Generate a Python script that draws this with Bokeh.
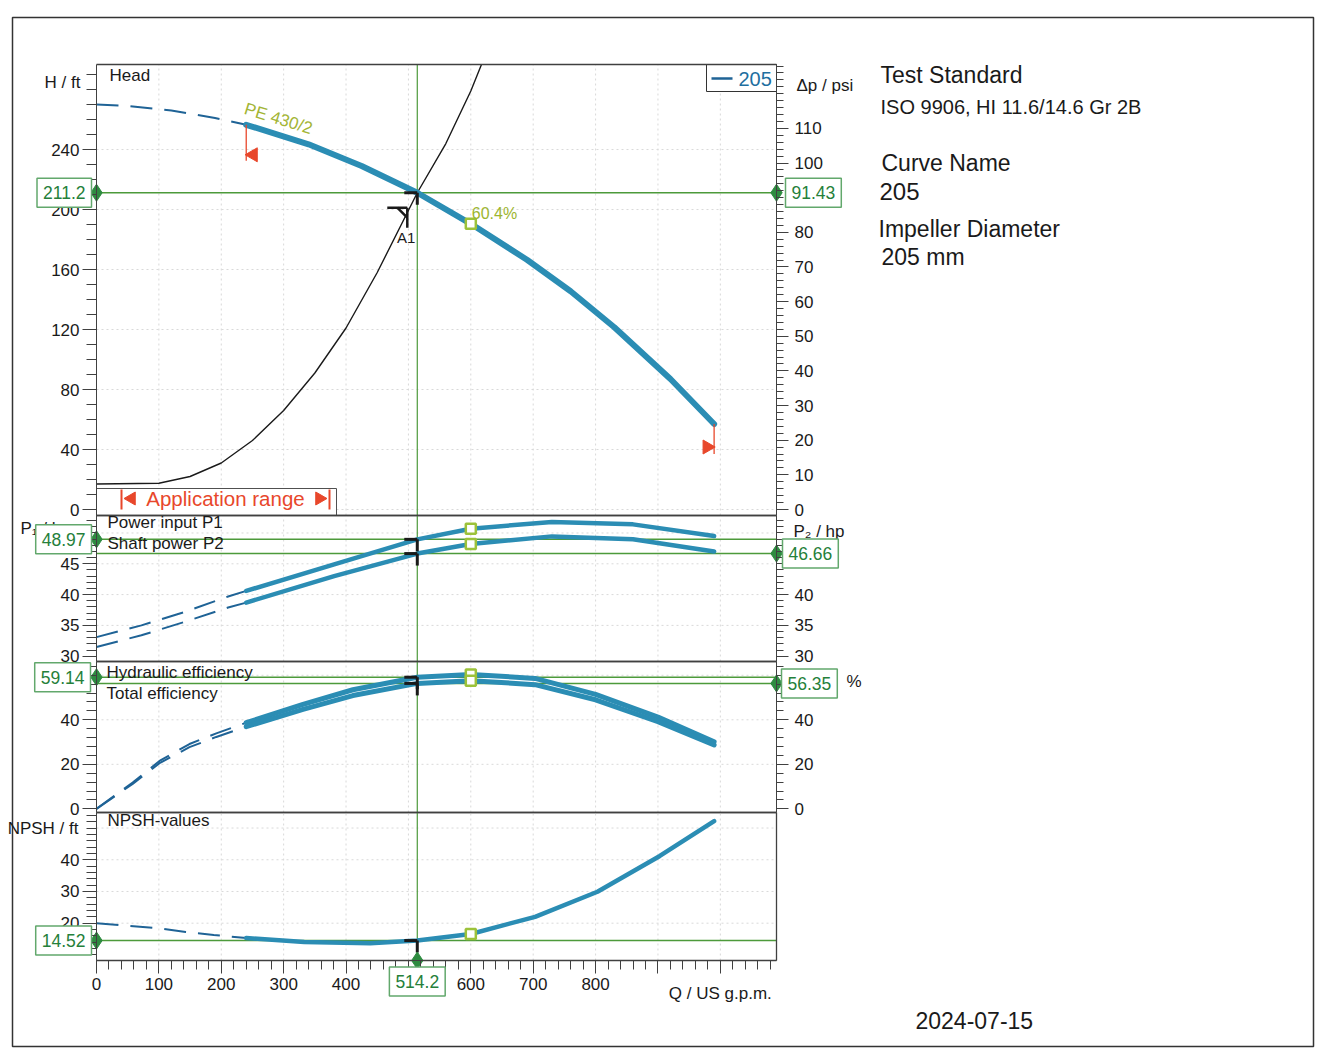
import math
from bokeh.plotting import figure
from bokeh.models import Range1d, LinearAxis, FixedTicker, Label
from bokeh.embed import file_html
from bokeh.resources import INLINE

# ---------------- data ----------------
Q_HEAD = [0, 50, 120, 190, 240, 340, 425, 514.2, 600, 690, 760, 830, 920, 990]
H_HEAD = [270, 269, 266, 261, 256.5, 243.5, 229, 211.2, 190.5, 166.5, 145.5, 121.5, 87, 57]

Q_SYSTEM = [0, 100, 150, 200, 250, 300, 350, 400, 450, 514.2, 560, 600, 630]
H_SYSTEM = [17, 17.5, 22, 31, 46, 66, 91, 121, 158, 211.2, 244, 279, 310]

Q_POWER = [0, 72, 139, 211, 240, 381, 514.2, 600, 730, 860, 990]
P1_HP = [33.1, 35.0, 37.1, 39.7, 40.6, 44.9, 48.97, 50.7, 51.8, 51.4, 49.5]
P2_HP = [31.5, 33.4, 35.5, 37.9, 38.7, 43.0, 46.66, 48.2, 49.45, 49.0, 47.0]

Q_EFF = [0, 58, 101, 149, 192, 240, 331, 411, 514.2, 600, 703, 800, 900, 990]
ETA_HYD = [0, 11.8, 21.5, 29.1, 33.9, 38.7, 46.9, 53.5, 59.14, 60.4, 58.6, 51.4, 41.2, 30.1]
ETA_TOT = [0, 11.2, 20.5, 27.7, 32.3, 36.9, 44.7, 50.9, 56.35, 57.6, 55.8, 49.0, 39.2, 28.7]

Q_NPSH = [0, 49, 103, 143, 188, 240, 333, 439, 514.2, 600, 703, 803, 903, 990]
NPSH_FT = [20.0, 19.2, 18.3, 17.2, 16.3, 15.3, 14.1, 13.7, 14.52, 16.6, 22.0, 29.9, 41.2, 52.2]

Q_OP, H_OP, DP_OP = 514.2, 211.2, 91.43
P1_OP, P2_OP = 48.97, 46.66
ETAH_OP, ETAT_OP = 59.14, 56.35
NPSH_OP = 14.52
Q_BEP, BEP_LABEL = 600, "60.4%"
APP_MIN, APP_MAX = 240, 990
PSI_PER_FT = DP_OP / H_OP

X_TICKS = list(range(0, 1001, 100))
X_HIDDEN = {500: "", 900: "", 1000: ""}
H_TICKS = [0, 40, 80, 120, 160, 200, 240]
PSI_TICKS = [0, 10, 20, 30, 40, 50, 60, 70, 80, 100, 110]
P_TICKS = [30, 35, 40, 45]
P2_TICKS = [30, 35, 40]
ETA_TICKS = [0, 20, 40]
NPSH_TICKS = [20, 30, 40]

INFO = [("Test Standard", 23), ("ISO 9906, HI 11.6/14.6 Gr 2B", 20), ("Curve Name", 23),
        ("205", 24), ("Impeller Diameter", 23), ("205 mm", 23)]
DATE = "2024-07-15"

# ---------------- layout / style ----------------
FONT = "Liberation Sans"
BLUE = "#2b8db4"
DASH = "#1f6396"
OPG = "#4d9a3b"
GTXT = "#25803a"
GBOX = "#62a86c"
DIAM = "#2e8b40"
BEPC = "#9cc23a"
RED = "#e8472b"
INK = "#1a1a1a"
FRAME = "#404040"
GRIDC = "#d9d9d9"

W, HT = 1320, 1052
PX0, PX1 = 96, 776              # panel frame left / right (page px)
X_MAX = 1090
KQ = X_MAX / (PX1 - PX0)        # gpm per pixel
H_RANGE = (-4, 296.7)
P_RANGE = (29.14, 52.84)
E_RANGE = (-1.66, 66.2)
N_RANGE = (8.23, 54.9)
BANDS = {"head": (64, 515, H_RANGE), "power": (515, 661, P_RANGE),
         "eff": (661, 812, E_RANGE), "npsh": (812, 960, N_RANGE)}
BOX_PAD = (6, 8)


def band_range(top, bot, rng):
    s = (rng[1] - rng[0]) / (bot - top)
    return Range1d(rng[0] - (HT - bot) * s, rng[1] + top * s)


def qpx(px):
    return px * KQ


def vpx(name, px):
    top, bot, rng = BANDS[name]
    return px * (rng[1] - rng[0]) / (bot - top)


p = figure(width=W, height=HT, x_range=Range1d(-PX0 * KQ, (W - PX0) * KQ),
           y_range=Range1d(HT, 0), min_border=0, toolbar_location=None,
           output_backend="svg", x_axis_location=None, y_axis_location=None)
p.grid.visible = False
p.outline_line_color = None
p.background_fill_color = "white"
p.border_fill_color = "white"
p.extra_x_ranges = {"px": Range1d(0, W)}
p.extra_y_ranges = {k: band_range(*v) for k, v in BANDS.items()}
p.extra_y_ranges["psi"] = band_range(64, 515, (H_RANGE[0] * PSI_PER_FT,
                                                H_RANGE[1] * PSI_PER_FT))


def axis(side, name, loc, bounds, ticks, minor, overrides=None):
    ax = LinearAxis(y_range_name=name, fixed_location=loc, bounds=bounds)
    ax.ticker = FixedTicker(ticks=ticks, minor_ticks=minor)
    ax.major_label_text_font = FONT
    ax.major_label_text_font_size = "17px"
    ax.major_label_text_color = INK
    ax.axis_line_color = FRAME
    ax.major_tick_line_color = FRAME
    ax.minor_tick_line_color = FRAME
    ax.major_tick_in = 0
    ax.minor_tick_in = 0
    if side == "left":
        ax.major_tick_out, ax.minor_tick_out, ax.major_label_standoff = 14, 10, 3
    elif side == "right":
        ax.major_tick_out, ax.minor_tick_out, ax.major_label_standoff = 12, 7, 6
    else:
        ax.major_tick_out, ax.minor_tick_out, ax.major_label_standoff = 13, 9, 4
    if overrides:
        ax.major_label_overrides = overrides
    p.add_layout(ax, side)


def grid(name, yticks):
    rng = BANDS[name][2]
    xs = X_TICKS[1:]
    p.segment(x0=xs, y0=[rng[0]] * len(xs), x1=xs, y1=[rng[1]] * len(xs),
              line_color=GRIDC, line_dash="2 3", y_range_name=name)
    p.segment(x0=[0] * len(yticks), y0=yticks, x1=[X_MAX] * len(yticks), y1=yticks,
              line_color=GRIDC, line_dash="2 3", y_range_name=name)


def text(x, y, s, size=17, color=INK, align="left", baseline="middle", name=None,
         xname=None, **kw):
    if name:
        kw["y_range_name"] = name
    if xname:
        kw["x_range_name"] = xname
    p.add_layout(Label(x=x, y=y, text=s, text_font=FONT, text_font_size=f"{size}px",
                       text_color=color, text_align=align, text_baseline=baseline, **kw))


def ptext(x, y, s, **kw):   # positioned in page pixels
    text(x, y, s, xname="px", **kw)


def vbox(x, y, s, align, name=None):
    kw = {"y_range_name": name} if name else {}
    p.add_layout(Label(x=x, y=y, text=s, text_align=align, text_baseline="middle",
                       text_font=FONT, text_font_size="17.5px", text_color=GTXT,
                       background_fill_color="white", border_line_color=GBOX,
                       border_line_width=1.5, padding=BOX_PAD, **kw))


def diamond(x, y, name):
    p.scatter([x], [y], marker="diamond", size=17, fill_color=DIAM, line_color=DIAM,
              y_range_name=name)


def op_lines(name, ys):
    rng = BANDS[name][2]
    p.segment(x0=[0] * len(ys), y0=ys, x1=[X_MAX] * len(ys), y1=ys, line_color=OPG,
              line_width=1.5, y_range_name=name)
    p.segment(x0=[Q_OP], y0=[rng[0]], x1=[Q_OP], y1=[rng[1]], line_color=OPG,
              line_width=1.2, y_range_name=name)


def curve(name, q, v, w):
    i0 = q.index(APP_MIN)
    p.line(q[:i0 + 1], v[:i0 + 1], line_color=DASH, line_width=2, line_dash="22 12",
           y_range_name=name)
    p.line(q[i0:], v[i0:], line_color=BLUE, line_width=w, line_cap="round",
           line_join="round", y_range_name=name)


def bep(name, q, v):
    yv = v[q.index(Q_BEP)]
    p.scatter([Q_BEP], [yv], marker="square", size=10, line_color=BEPC, line_width=2.5,
              fill_color="white", y_range_name=name)
    return yv


def op_mark(name, y):
    p.segment(x0=[Q_OP - qpx(13), Q_OP], y0=[y, y], x1=[Q_OP, Q_OP],
              y1=[y, y - vpx(name, 12)], line_color=INK, line_width=3, y_range_name=name)


def frame_lines(name):
    rng = BANDS[name][2]
    p.segment(x0=[0, 0], y0=[rng[0], rng[1]], x1=[X_MAX, X_MAX], y1=[rng[0], rng[1]],
              line_color=FRAME, line_width=1.3, y_range_name=name)


# ---------------- Head panel ----------------
grid("head", H_TICKS)
op_lines("head", [H_OP])
p.line(Q_SYSTEM, H_SYSTEM, line_color=INK, line_width=1.4, y_range_name="head")
# white mask above the head panel (keeps the system curve inside the panel)
p.quad(left=[0], right=[X_MAX], top=[0], bottom=[BANDS["head"][0]],
       fill_color="white", line_color=None)
curve("head", Q_HEAD, H_HEAD, 6)

# application range label box
p.quad(left=[0], right=[qpx(240)], bottom=[515], top=[488], fill_color="white",
       line_color="#505050", line_width=1)
ptext(PX0 + 129, 498, "Application range", size=20.5, color=RED, align="center")
p.segment(x0=[PX0 + 25, PX0 + 233], y0=[489, 489], x1=[PX0 + 25, PX0 + 233],
          y1=[509, 509], line_color=RED, line_width=2, x_range_name="px")
p.scatter([PX0 + 35], [498], marker="triangle", size=13, angle=math.pi / 2,
          fill_color=RED, line_color=RED, x_range_name="px")
p.scatter([PX0 + 223], [498], marker="triangle", size=13, angle=-math.pi / 2,
          fill_color=RED, line_color=RED, x_range_name="px")

# application range limits on the curve
h_min = H_HEAD[Q_HEAD.index(APP_MIN)]
h_max = H_HEAD[Q_HEAD.index(APP_MAX)]
p.segment(x0=[APP_MIN, APP_MAX], y0=[h_min, h_max], x1=[APP_MIN, APP_MAX],
          y1=[h_min - vpx("head", 36), h_max - vpx("head", 30)],
          line_color=RED, line_width=1.3, y_range_name="head")
p.scatter([APP_MIN + qpx(7)], [h_min - vpx("head", 30)], marker="triangle", size=14,
          angle=math.pi / 2, fill_color=RED, line_color=RED, y_range_name="head")
p.scatter([APP_MAX - qpx(7)], [h_max - vpx("head", 23)], marker="triangle", size=14,
          angle=-math.pi / 2, fill_color=RED, line_color=RED, y_range_name="head")

# BEP + operating point marks
h_bep = bep("head", Q_HEAD, H_HEAD)
text(Q_BEP, h_bep, BEP_LABEL, size=16, color="#9db52f", baseline="bottom",
     name="head", x_offset=1, y_offset=2)
op_mark("head", H_OP)
yb = H_OP - vpx("head", 15)
p.segment(x0=[Q_OP - qpx(30), Q_OP - qpx(10), Q_OP - qpx(20)], y0=[yb, yb, yb],
          x1=[Q_OP - qpx(10), Q_OP - qpx(10), Q_OP - qpx(10)],
          y1=[yb, yb - vpx("head", 20), yb - vpx("head", 10)],
          line_color=INK, line_width=2.5, y_range_name="head")
text(Q_OP - qpx(11), H_OP - vpx("head", 45), "A1", size=15, align="center", name="head")
text(238, 267.5, "PE 430/2", size=17, color="#a3b535", baseline="alphabetic",
     angle=-0.30, name="head")

# legend box "— 205"
p.quad(left=[PX1 - 70], right=[PX1], top=[64], bottom=[91], fill_color="white",
       line_color="#333333", line_width=1, x_range_name="px")
p.segment(x0=[PX1 - 65], y0=[78], x1=[PX1 - 44], y1=[78], line_color=DASH,
          line_width=2.5, x_range_name="px")
ptext(PX1 - 38, 78, "205", size=20, color="#1f6fa0")

frame_lines("head")
axis("left", "head", 0, H_RANGE, H_TICKS, list(range(0, 300, 10)))
axis("right", "psi", X_MAX, (H_RANGE[0] * PSI_PER_FT, H_RANGE[1] * PSI_PER_FT),
     PSI_TICKS, list(range(0, 130, 2)))
ptext(PX0 + 13, 75, "Head")
text(-qpx(16), 284.7, "H / ft", align="right", name="head")
text(X_MAX + qpx(20), 122.3, "Δp / psi", name="psi")
vbox(-qpx(5), H_OP, "211.2", "right", "head")
vbox(X_MAX + qpx(9), DP_OP, "91.43", "left", "psi")
diamond(0, H_OP, "head")
diamond(X_MAX, H_OP, "head")

# ---------------- Power panel ----------------
grid("power", [35, 40, 45, 50])
op_lines("power", [P1_OP, P2_OP])
curve("power", Q_POWER, P1_HP, 4.5)
curve("power", Q_POWER, P2_HP, 4.5)
bep("power", Q_POWER, P1_HP)
bep("power", Q_POWER, P2_HP)
op_mark("power", P1_OP)
op_mark("power", P2_OP)
frame_lines("power")
axis("left", "power", 0, P_RANGE, P_TICKS, list(range(30, 53)))
axis("right", "power", X_MAX, P_RANGE, P2_TICKS, list(range(30, 53)))
ptext(PX0 + 11, 522, "Power input P1")
ptext(PX0 + 11, 543, "Shaft power P2")
ptext(20, 528, "P₁ / hp")
text(X_MAX + qpx(17), 50.2, "P₂ / hp", name="power")
vbox(-qpx(5), P1_OP, "48.97", "right", "power")
vbox(X_MAX + qpx(6), P2_OP, "46.66", "left", "power")
diamond(0, P1_OP, "power")
diamond(X_MAX, P2_OP, "power")

# ---------------- Efficiency panel ----------------
grid("eff", [20, 40, 60])
op_lines("eff", [ETAH_OP, ETAT_OP])
curve("eff", Q_EFF, ETA_HYD, 5)
curve("eff", Q_EFF, ETA_TOT, 5)
bep("eff", Q_EFF, ETA_HYD)
bep("eff", Q_EFF, ETA_TOT)
op_mark("eff", ETAH_OP)
op_mark("eff", ETAT_OP)
frame_lines("eff")
axis("left", "eff", 0, E_RANGE, ETA_TICKS, list(range(0, 66, 4)))
axis("right", "eff", X_MAX, E_RANGE, ETA_TICKS, list(range(0, 66, 4)))
ptext(PX0 + 10, 672, "Hydraulic efficiency")
ptext(PX0 + 10, 693, "Total efficiency")
vbox(-qpx(6), ETAH_OP, "59.14", "right", "eff")
vbox(X_MAX + qpx(5), ETAT_OP, "56.35", "left", "eff")
text(X_MAX + qpx(70), ETAT_OP + 1, "%", name="eff")
diamond(0, ETAH_OP, "eff")
diamond(X_MAX, ETAT_OP, "eff")

# ---------------- NPSH panel ----------------
grid("npsh", [20, 30, 40, 50])
op_lines("npsh", [NPSH_OP])
curve("npsh", Q_NPSH, NPSH_FT, 4.5)
bep("npsh", Q_NPSH, NPSH_FT)
op_mark("npsh", NPSH_OP)
frame_lines("npsh")
p.segment(x0=[X_MAX], y0=[N_RANGE[0]], x1=[X_MAX], y1=[N_RANGE[1]], line_color=FRAME,
          line_width=1.3, y_range_name="npsh")
axis("left", "npsh", 0, N_RANGE, NPSH_TICKS, list(range(10, 55, 2)))
axis("below", "npsh", N_RANGE[0], (0, X_MAX), X_TICKS, list(range(0, X_MAX, 20)),
     overrides=X_HIDDEN)
ptext(PX0 + 11, 820, "NPSH-values")
text(-qpx(18), 50, "NPSH / ft", align="right", name="npsh")
vbox(-qpx(5), NPSH_OP, "14.52", "right", "npsh")
diamond(0, NPSH_OP, "npsh")
diamond(Q_OP, N_RANGE[0], "npsh")
vbox(Q_OP, 981, "514.2", "center")
text(1000, 993, "Q / US g.p.m.", align="center")

# ---------------- info texts + page border ----------------
INFO_POS = [(880, 74), (880, 106), (881, 162), (879, 191), (878, 228), (881, 256)]
for (s, size), (x, y) in zip(INFO, INFO_POS):
    ptext(x, y, s, size=size)
ptext(915, 1020, DATE, size=23)
p.quad(left=[12], right=[1313], top=[17], bottom=[1046], fill_color=None,
       line_color="#333333", line_width=1.5, x_range_name="px")

open("out.html", "w").write(file_html(p, INLINE))
